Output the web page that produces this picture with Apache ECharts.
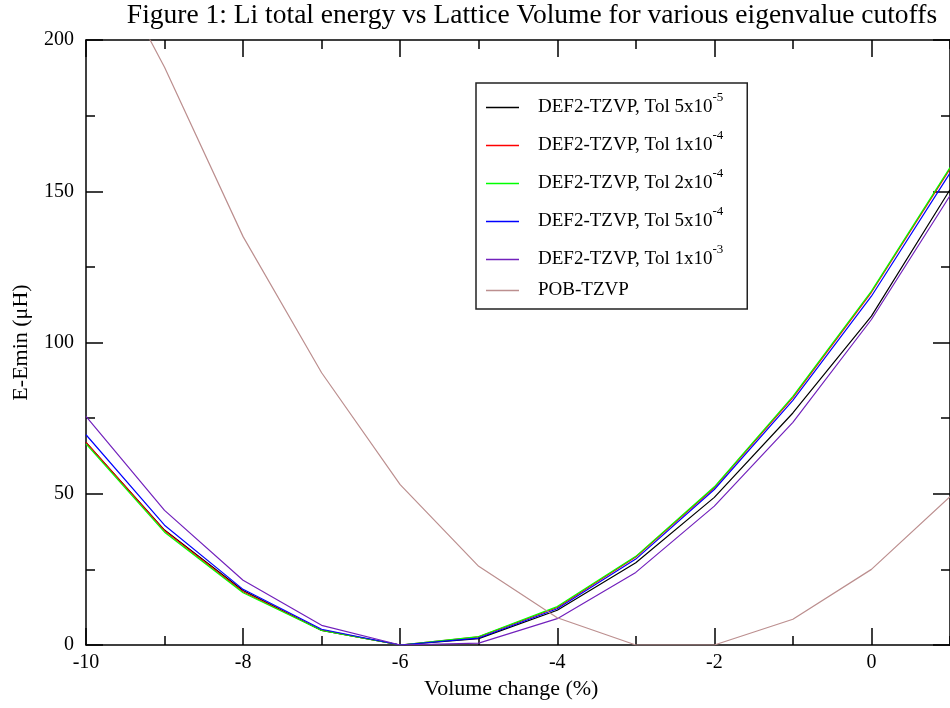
<!DOCTYPE html>
<html>
<head>
<meta charset="utf-8">
<script src="https://cdn.jsdelivr.net/npm/echarts@6/dist/echarts.min.js"></script>
<style>
html, body { margin: 0; padding: 0; background: #fff; }
#chart { width: 950px; height: 708px; }
</style>
</head>
<body>
<div id="chart"></div>
<script>
var volume = [-10, -9, -8, -7, -6, -5, -4, -3, -2, -1, 0, 1];

var tol5e5 = [67, 38, 18, 4.8, 0, 2.1, 11.5, 27.2, 48.8, 76.7, 108.7, 150.5];
var tol1e4 = [67, 37.8, 17.6, 4.9, 0, 2.7, 12.4, 29.1, 52, 81.8, 116.6, 157.4];
var tol2e4 = [66.5, 37.3, 17.3, 4.8, 0, 2.8, 12.7, 29.3, 52.3, 82.2, 117, 157.8];
var tol5e4 = [69.5, 39.6, 18.4, 5.2, 0, 2.3, 12, 28.4, 51.4, 80.9, 115.3, 156];
var tol1e3 = [75.6, 44.5, 21.4, 6.5, 0, 0.6, 8.7, 24, 45.9, 73.6, 107.6, 148.5];
var pob = [240, 191, 135, 90, 53, 26, 9, 0, 0, 8.5, 25, 49];

var names = ['DEF2-TZVP, Tol 5x10^-5', 'DEF2-TZVP, Tol 1x10^-4', 'DEF2-TZVP, Tol 2x10^-4',
             'DEF2-TZVP, Tol 5x10^-4', 'DEF2-TZVP, Tol 1x10^-3', 'POB-TZVP'];
var colors = ['#000000', '#ff0000', '#00ff00', '#0000ff', '#7221bc', '#bc8f8f'];
var values = [tol5e5, tol1e4, tol2e4, tol5e4, tol1e3, pob];

var serif = 'Liberation Serif, Times New Roman, serif';

function pairs(ys) {
    var out = [];
    for (var i = 0; i < volume.length; i++) {
        out.push([volume[i], ys[i]]);
    }
    return out;
}

var series = [];
for (var i = 0; i < names.length; i++) {
    series.push({
        name: names[i],
        type: 'line',
        data: pairs(values[i]),
        showSymbol: false,
        color: colors[i],
        lineStyle: { width: 1.2, color: colors[i] }
    });
}

var tickStyle = { color: '#000', width: 1.5 };

// x max is 2 and the grid runs past the right edge, so the picture is cut at x = 1
var chart = echarts.init(document.getElementById('chart'));
chart.setOption({
    animation: false,
    backgroundColor: '#fff',
    title: {
        text: 'Figure 1: Li total energy vs Lattice Volume for various eigenvalue cutoffs',
        left: 527, top: -3, textAlign: 'center',
        textStyle: { fontFamily: serif, fontSize: 27.5, fontWeight: 'normal', color: '#000' }
    },
    grid: { left: 86, top: 40, bottom: 63, right: -78.5, outerBoundsMode: 'none', containLabel: false },
    legend: {
        orient: 'vertical', left: 476, top: 83,
        backgroundColor: '#fff', borderColor: '#222', borderWidth: 1.5, borderRadius: 0,
        padding: [8, 24, 9, 10], itemGap: 12, itemWidth: 33, itemHeight: 1.5, icon: 'rect',
        textStyle: {
            fontFamily: serif, fontSize: 19, color: '#000', padding: [0, 0, 0, 14],
            rich: { sup: { fontFamily: serif, fontSize: 13, color: '#000', padding: [0, 0, 20, 0], verticalAlign: 'top' } }
        },
        formatter: function (name) {
            var p = name.split('^');
            return p.length > 1 ? p[0] + '{sup|' + p[1] + '}' : name;
        },
        data: names
    },
    xAxis: [{
        type: 'value', min: -10, max: 2, interval: 2, position: 'bottom',
        name: 'Volume change (%)', nameLocation: 'middle', nameGap: 33,
        nameTextStyle: { fontFamily: serif, fontSize: 22, color: '#000', padding: [0, 92, 0, 0] },
        axisLine: { onZero: false, lineStyle: tickStyle },
        axisTick: { inside: true, length: 17, lineStyle: tickStyle },
        minorTick: { show: true, splitNumber: 2, length: 9, lineStyle: tickStyle },
        axisLabel: { fontFamily: serif, fontSize: 20, color: '#000', margin: 8 },
        splitLine: { show: false }
    }, {
        type: 'value', min: -10, max: 2, interval: 2, position: 'top',
        axisLine: { onZero: false, lineStyle: tickStyle },
        axisTick: { inside: true, length: 17, lineStyle: tickStyle },
        minorTick: { show: true, splitNumber: 2, length: 9, lineStyle: tickStyle },
        axisLabel: { show: false },
        splitLine: { show: false }
    }],
    yAxis: [{
        type: 'value', min: 0, max: 200, interval: 50, position: 'left',
        name: 'E-Emin (μH)', nameLocation: 'middle', nameGap: 54,
        nameTextStyle: { fontFamily: serif, fontSize: 22, color: '#000' },
        axisLine: { show: true, onZero: false, lineStyle: tickStyle },
        axisTick: { show: true, inside: true, length: 17, lineStyle: tickStyle },
        minorTick: { show: true, splitNumber: 2, length: 9, lineStyle: tickStyle },
        axisLabel: { fontFamily: serif, fontSize: 20, color: '#000', margin: 12 },
        splitLine: { show: false }
    }, {
        type: 'value', min: 0, max: 200, interval: 50, position: 'right', offset: -78.5,
        axisLine: { show: true, onZero: false, lineStyle: tickStyle },
        axisTick: { show: true, inside: true, length: 17, lineStyle: tickStyle },
        minorTick: { show: true, splitNumber: 2, length: 9, lineStyle: tickStyle },
        axisLabel: { show: false },
        splitLine: { show: false }
    }],
    series: series
});
</script>
</body>
</html>
